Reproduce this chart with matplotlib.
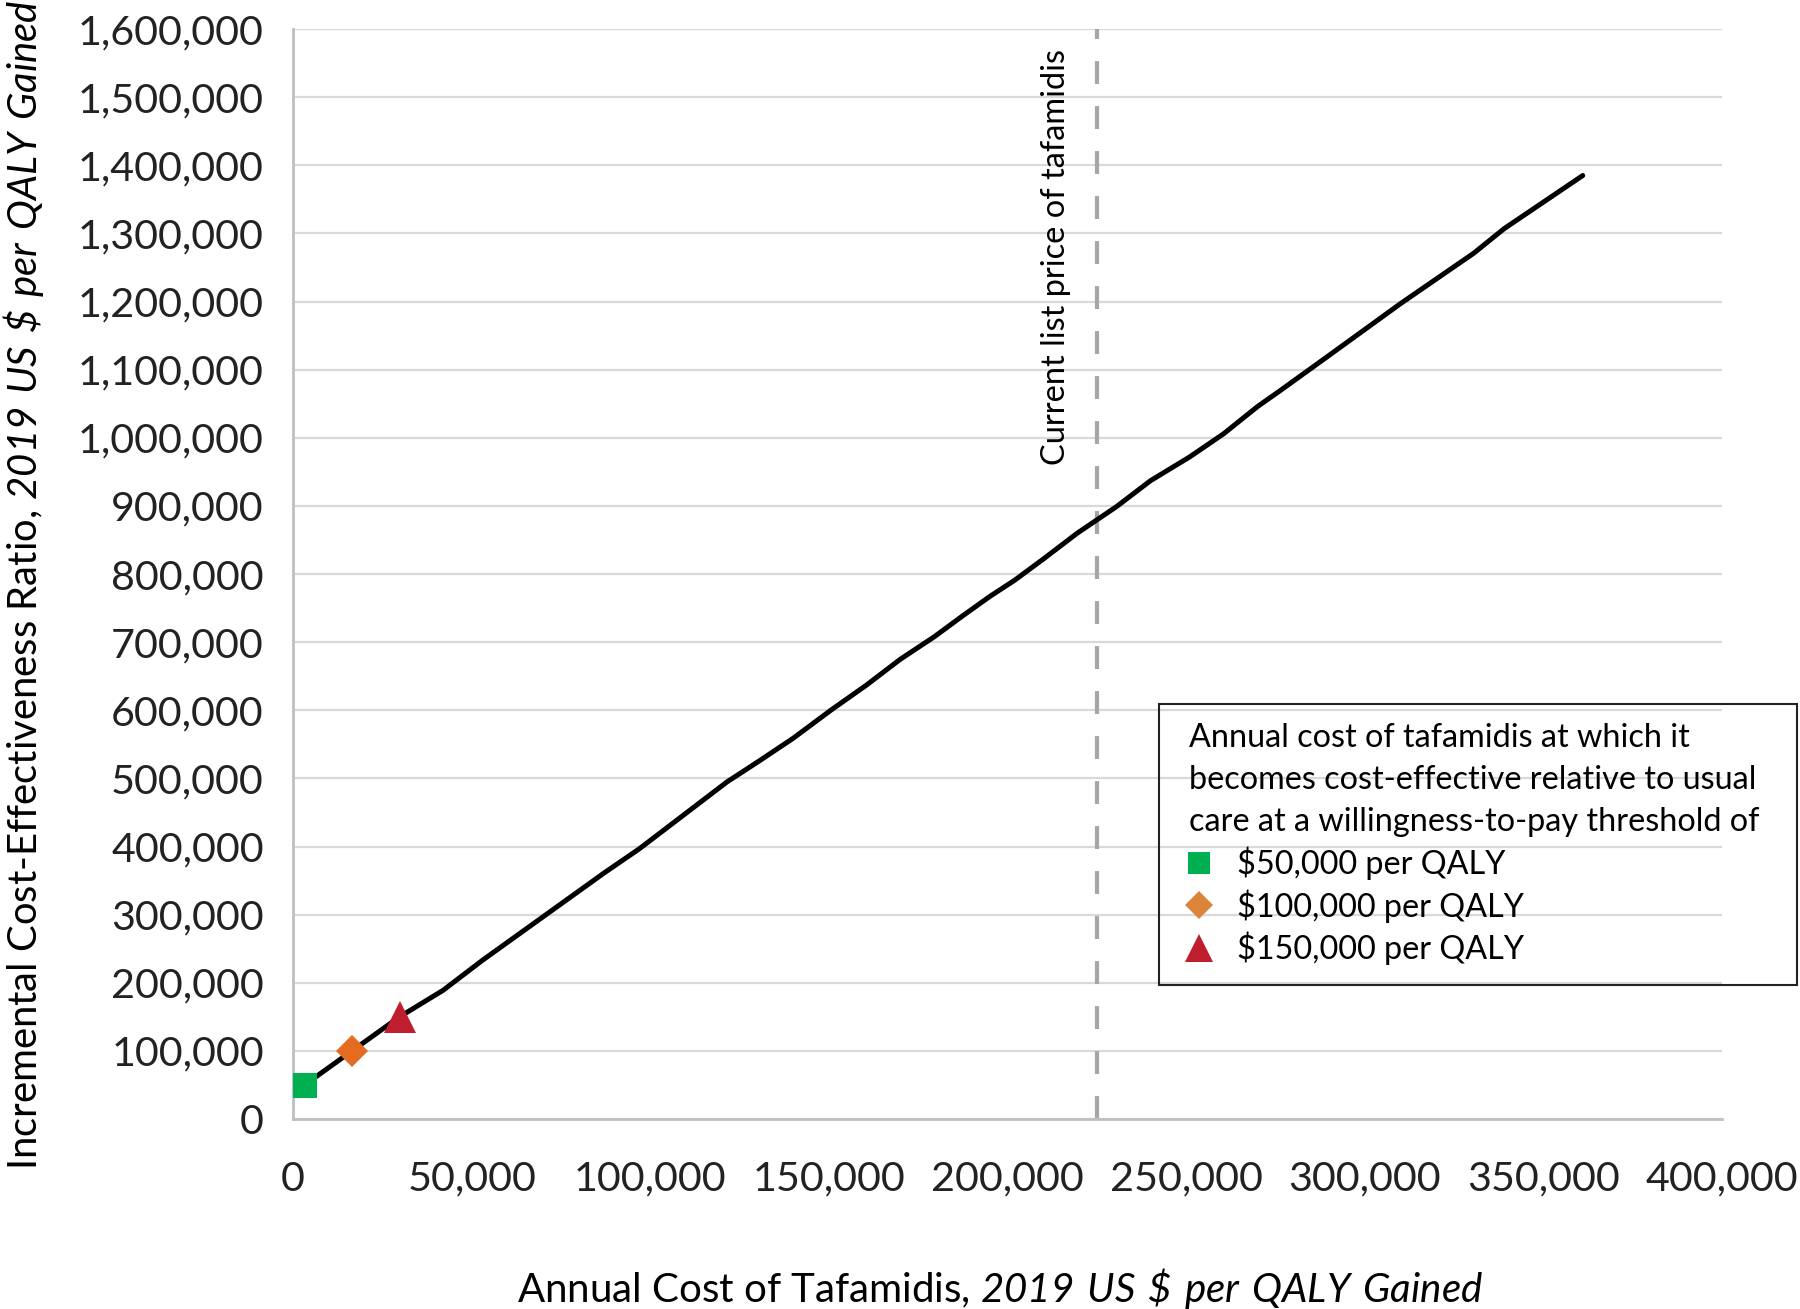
import matplotlib
matplotlib.use("Agg")
import matplotlib.pyplot as plt
from matplotlib.lines import Line2D
from matplotlib.patches import Rectangle
from matplotlib.ticker import FuncFormatter, MultipleLocator

plt.rcParams["font.family"] = ["Lato", "DejaVu Sans"]
plt.rcParams["mathtext.fontset"] = "custom"
plt.rcParams["mathtext.rm"] = "Lato"
plt.rcParams["mathtext.sf"] = "Lato:italic"

# annual cost of tafamidis vs ICER
cost = [3200, 16500, 29800, 42000, 53000, 70000, 87000, 97000, 110000, 121500,
        130000, 140000, 150500, 160500, 170000, 179500, 187000, 195000, 202000,
        210000, 219500, 230500, 240000, 251000, 260500, 270000, 276500, 290000,
        310000, 330500, 339000, 350000, 361000]
icer = [50000, 100000, 150000, 189000, 233000, 297000, 361000, 397000, 449000,
        495000, 524000, 559000, 600000, 637000, 675000, 708000, 737000, 767000,
        791000, 822000, 860000, 899000, 937000, 972000, 1006000, 1046000, 1070000,
        1121000, 1197000, 1271000, 1307000, 1346000, 1385000]

list_price = 225000

wtp_labels = ["$50,000 per QALY", "$100,000 per QALY", "$150,000 per QALY"]
wtp_cost = [3200, 16500, 29800]
wtp_icer = [50000, 100000, 150000]
wtp_marker = ["s", "D", "^"]
wtp_size = [18, 16, 23]
wtp_color = ["#00b050", "#e36c22", "#be1e2d"]

fig = plt.figure(figsize=(18, 13.09), dpi=100)
ax = fig.add_axes([0.1628, 0.1451, 0.7939, 0.8327])

ax.plot(cost, icer, color="black", lw=3.6, solid_capstyle="round", zorder=3)
for c, v, m, s, col in zip(wtp_cost, wtp_icer, wtp_marker, wtp_size, wtp_color):
    ax.plot([c], [v], marker=m, markersize=s, color=col, markeredgewidth=0,
            linestyle="none", zorder=4)

ax.axvline(list_price, color="#a6a6a6", lw=3, linestyle=(0, (5.5, 5.3)), zorder=2)
ax.text(list_price - 11500, 960000, "Current list price of tafamidis",
        rotation=90, ha="center", va="bottom", fontsize=23.4, color="black")

ax.set_xlim(0, 400000)
ax.set_ylim(0, 1600000)
ax.xaxis.set_major_locator(MultipleLocator(50000))
ax.yaxis.set_major_locator(MultipleLocator(100000))
fmt = FuncFormatter(lambda v, p: f"{int(v):,}")
ax.xaxis.set_major_formatter(fmt)
ax.yaxis.set_major_formatter(fmt)
ax.tick_params(axis="both", length=0, labelsize=29.7, colors="#222222")
ax.tick_params(axis="y", pad=21)
ax.tick_params(axis="x", pad=30)

ax.grid(axis="y", color="#d9d9d9", lw=1.6)
ax.set_axisbelow(True)
for side in ["top", "right"]:
    ax.spines[side].set_visible(False)
for side in ["left", "bottom"]:
    ax.spines[side].set_color("#bfbfbf")
    ax.spines[side].set_linewidth(2)

ax.set_xlabel(r"Annual Cost of Tafamidis, $\mathsf{2019\ US\ \$\ per\ QALY\ Gained}$",
              fontsize=29)
ax.xaxis.set_label_coords(0.495, -0.135)
ax.set_ylabel(r"Incremental Cost-Effectiveness Ratio, $\mathsf{2019\ US\ \$\ per\ QALY\ Gained}$",
              fontsize=28.8)
ax.yaxis.set_label_coords(-0.173, 0.49)

# legend: marker-only handles, frame drawn separately
leg_sizes = [16.2, 14.3, 20]
leg_colors = ["#00b050", "#dc843a", "#be1e2d"]
handles = [Line2D([], [], marker=m, markersize=s, color=col,
                  markeredgewidth=0, linestyle="none")
           for m, s, col in zip(wtp_marker, leg_sizes, leg_colors)]
leg = ax.legend(handles, wtp_labels,
                title="Annual cost of tafamidis at which it\n"
                      "becomes cost-effective relative to usual\n"
                      "care at a willingness-to-pay threshold of",
                loc="upper left", bbox_to_anchor=(1189 / 1800, 1 - 723 / 1309),
                bbox_transform=fig.transFigure, fontsize=23.3, title_fontsize=23.3,
                frameon=False, borderpad=0, borderaxespad=0,
                handlelength=0.62, handletextpad=0.86,
                labelspacing=0.28, alignment="left")
leg.get_title().set_linespacing(1.51)

fig.patches.append(Rectangle((1159 / 1800, 1 - 985 / 1309), 638 / 1800, 281 / 1309,
                             transform=fig.transFigure, fill=False,
                             edgecolor="#222222", lw=1.5, zorder=5))

fig.savefig("out.png", dpi=100)
